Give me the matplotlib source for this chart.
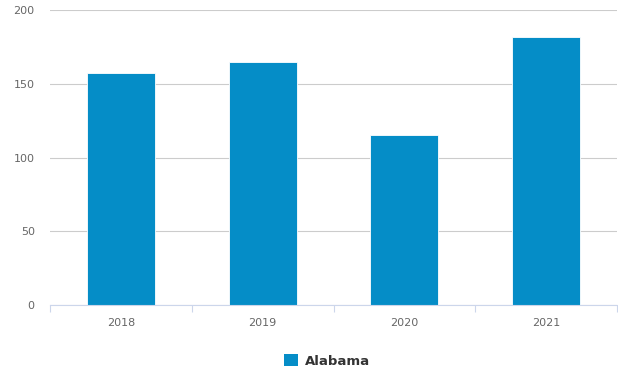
import matplotlib.pyplot as plt
from matplotlib.patches import Patch

years = ['2018', '2019', '2020', '2021']
values = [157, 165, 115, 182]
series_name = 'Alabama'

fig = plt.figure(figsize=(6.18, 3.70), dpi=100)
ax = fig.add_axes([50 / 618, 65 / 370, 567 / 618, 295 / 370])

x = range(len(years))
ax.bar(x, values, width=0.48, color='#058DC7', edgecolor='white', linewidth=0.6, zorder=3)

ax.set_ylim(0, 200)
ax.set_yticks([0, 50, 100, 150, 200])
ax.set_xlim(-0.5, len(years) - 0.5)
ax.yaxis.grid(True, color='#cccccc', linewidth=0.8, zorder=0)

# category labels centred, ticks at boundaries
ax.set_xticks(list(x))
ax.set_xticklabels(years)
ax.tick_params(axis='x', which='major', length=0, pad=9, labelsize=8, labelcolor='#666666')
ax.set_xticks([i - 0.5 for i in range(len(years) + 1)], minor=True)
ax.tick_params(axis='x', which='minor', length=5, color='#ccd6eb', width=0.8)
ax.tick_params(axis='y', length=0, pad=11, labelsize=8, labelcolor='#666666')

for side in ['top', 'right', 'left']:
    ax.spines[side].set_visible(False)
ax.spines['bottom'].set_color('#ccd6eb')
ax.spines['bottom'].set_linewidth(0.8)
ax.spines['bottom'].set_zorder(4)

handles = [Patch(facecolor='#058DC7', edgecolor='none', label=series_name)]
leg = fig.legend(handles=handles, loc='center', bbox_to_anchor=(0.529, 1 - 361 / 370),
                 frameon=False, handlelength=1.1, handleheight=1.0, handletextpad=0.5,
                 prop={'weight': 'bold', 'size': 9.5})
for t in leg.get_texts():
    t.set_color('#333333')

fig.savefig('out.png', dpi=100)
